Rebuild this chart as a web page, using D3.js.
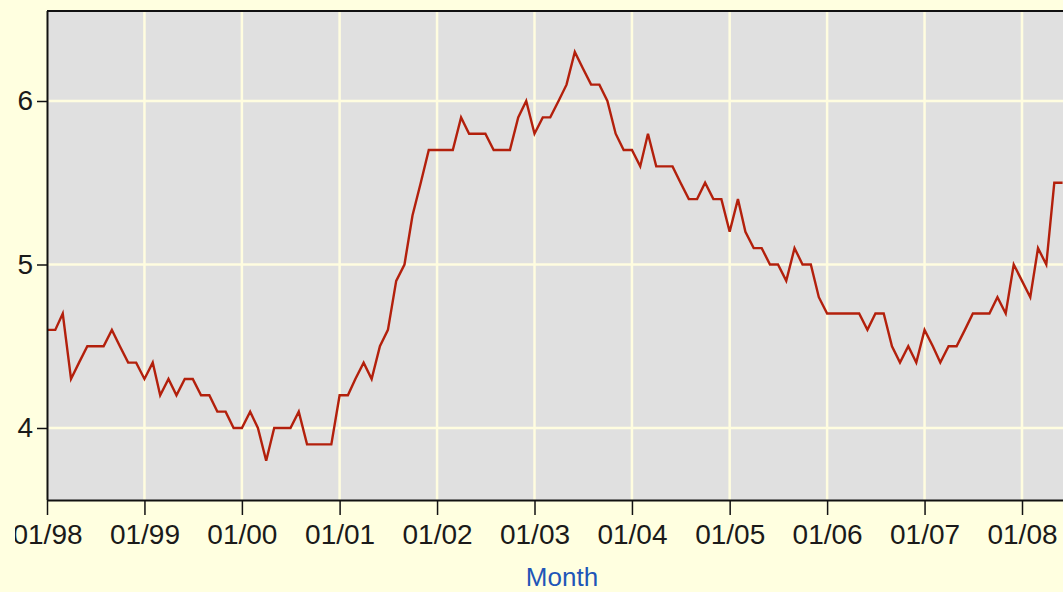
<!DOCTYPE html>
<html>
<head>
<meta charset="utf-8">
<script src="https://cdn.jsdelivr.net/npm/d3@7/dist/d3.min.js"></script>
<style>
  html, body { margin: 0; padding: 0; background: #FFFFE0; }
  svg { display: block; }
</style>
</head>
<body>
<svg id="chart" width="1063" height="592"></svg>
<script>
// ---- Data (monthly unemployment rate, %) ----
const startYear = 1998;
const values1998 = [4.6, 4.6, 4.7, 4.3, 4.4, 4.5, 4.5, 4.5, 4.6, 4.5, 4.4, 4.4];
const values1999 = [4.3, 4.4, 4.2, 4.3, 4.2, 4.3, 4.3, 4.2, 4.2, 4.1, 4.1, 4.0];
const values2000 = [4.0, 4.1, 4.0, 3.8, 4.0, 4.0, 4.0, 4.1, 3.9, 3.9, 3.9, 3.9];
const values2001 = [4.2, 4.2, 4.3, 4.4, 4.3, 4.5, 4.6, 4.9, 5.0, 5.3, 5.5, 5.7];
const values2002 = [5.7, 5.7, 5.7, 5.9, 5.8, 5.8, 5.8, 5.7, 5.7, 5.7, 5.9, 6.0];
const values2003 = [5.8, 5.9, 5.9, 6.0, 6.1, 6.3, 6.2, 6.1, 6.1, 6.0, 5.8, 5.7];
const values2004 = [5.7, 5.6, 5.8, 5.6, 5.6, 5.6, 5.5, 5.4, 5.4, 5.5, 5.4, 5.4];
const values2005 = [5.2, 5.4, 5.2, 5.1, 5.1, 5.0, 5.0, 4.9, 5.1, 5.0, 5.0, 4.8];
const values2006 = [4.7, 4.7, 4.7, 4.7, 4.7, 4.6, 4.7, 4.7, 4.5, 4.4, 4.5, 4.4];
const values2007 = [4.6, 4.5, 4.4, 4.5, 4.5, 4.6, 4.7, 4.7, 4.7, 4.8, 4.7, 5.0];
const values2008 = [4.9, 4.8, 5.1, 5.0, 5.5, 5.5];

const xTickLabels = ["01/98","01/99","01/00","01/01","01/02","01/03","01/04","01/05","01/06","01/07","01/08"];
const yTickValues = [4, 5, 6];
const xAxisTitle = "Month";

const allValues = [].concat(values1998, values1999, values2000, values2001, values2002,
  values2003, values2004, values2005, values2006, values2007, values2008);
const data = allValues.map((v, i) => ({ date: new Date(startYear, i, 1), value: v }));

// ---- Layout ----
const svg = d3.select("#chart");
const W = 1063, H = 592;
const pL = 47, pT = 11, pB = 500, pR = 1077;

const x = d3.scaleTime()
  .domain([new Date(1998, 0, 1), new Date(2008, 0, 1)])
  .range([pL, 1022]);
const y = d3.scaleLinear()
  .domain([3.5596, 6.5505])
  .range([pB, pT]);

const tickDates = xTickLabels.map((d, i) => new Date(startYear + i, 0, 1));

svg.append("rect").attr("x", 0).attr("y", 0).attr("width", W).attr("height", H).attr("fill", "#FFFFE0");

const defs = svg.append("defs");
defs.append("clipPath").attr("id", "plotclip")
  .append("rect").attr("x", pL).attr("y", pT).attr("width", pR - pL).attr("height", pB - pT);
defs.append("clipPath").attr("id", "labelclip")
  .append("rect").attr("x", 15).attr("y", -20).attr("width", W).attr("height", H);

// plot background
svg.append("rect").attr("x", pL).attr("y", pT).attr("width", pR - pL).attr("height", pB - pT)
  .attr("fill", "#E0E0E0");

// grid
const grid = svg.append("g").attr("clip-path", "url(#plotclip)");
grid.selectAll("line.v").data(tickDates).join("line").attr("class", "v")
  .attr("x1", d => x(d)).attr("x2", d => x(d)).attr("y1", pT).attr("y2", pB)
  .attr("stroke", "#FFFDE0").attr("stroke-width", 2.5);
grid.selectAll("line.h").data(yTickValues).join("line").attr("class", "h")
  .attr("x1", pL).attr("x2", pR).attr("y1", d => y(d)).attr("y2", d => y(d))
  .attr("stroke", "#FFFDE0").attr("stroke-width", 2.5);

// line
const line = d3.line().x(d => x(d.date)).y(d => y(d.value));
svg.append("path").datum(data)
  .attr("clip-path", "url(#plotclip)")
  .attr("d", line)
  .attr("fill", "none")
  .attr("stroke", "#B3200C")
  .attr("stroke-width", 2.4)
  .attr("stroke-linejoin", "miter");

// top frame
svg.append("line").attr("x1", pL).attr("x2", pR).attr("y1", pT).attr("y2", pT)
  .attr("stroke", "#111").attr("stroke-width", 2);

// axes
const fontFamily = "'Liberation Sans', Arial, sans-serif";
const xAxis = d3.axisBottom(x)
  .tickValues(tickDates)
  .tickFormat((d, i) => xTickLabels[i])
  .tickSizeInner(15).tickSizeOuter(0).tickPadding(9);
const gx = svg.append("g").attr("transform", `translate(0,${pB})`)
  .call(xAxis);
gx.attr("clip-path", "url(#labelclip)");
gx.select(".domain").attr("d", `M${pL},0.5H${pR}`).attr("stroke", "#111").attr("stroke-width", 2);
gx.selectAll(".tick line").attr("stroke", "#111").attr("stroke-width", 1.5);
gx.selectAll(".tick text").attr("font-family", fontFamily).attr("font-size", 28).attr("fill", "#1a1a1a");

const yAxis = d3.axisLeft(y)
  .tickValues(yTickValues)
  .tickFormat(d3.format("d"))
  .tickSizeInner(10).tickSizeOuter(0).tickPadding(4);
const gy = svg.append("g").attr("transform", `translate(${pL},0)`).call(yAxis);
gy.select(".domain").attr("d", `M0.5,${pT}V${pB}`).attr("stroke", "#111").attr("stroke-width", 2);
gy.selectAll(".tick line").attr("stroke", "#111").attr("stroke-width", 1.5);
gy.selectAll(".tick text").attr("font-family", fontFamily).attr("font-size", 28).attr("fill", "#1a1a1a");

// axis title
svg.append("text")
  .attr("x", (pL + pR) / 2).attr("y", 586)
  .attr("text-anchor", "middle")
  .attr("font-family", fontFamily).attr("font-size", 26)
  .attr("fill", "#1F56B8")
  .text(xAxisTitle);
</script>
</body>
</html>
